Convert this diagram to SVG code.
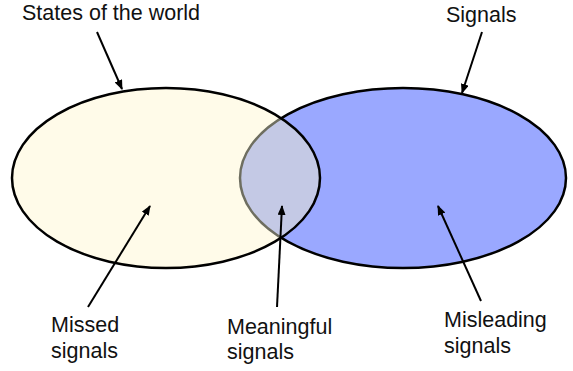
<svg xmlns="http://www.w3.org/2000/svg" width="573" height="371" viewBox="0 0 573 371">
<style>
text{font-family:"Liberation Sans",Arial,sans-serif;font-size:21.5px;fill:#111}
.arr{stroke:#000;stroke-width:2;fill:none;marker-end:url(#ah)}
</style>
<defs>
<marker id="ah" markerWidth="10" markerHeight="8" refX="9" refY="4" orient="auto" markerUnits="userSpaceOnUse">
<path d="M0,0 L10,4 L0,8 Z" fill="#000"/>
</marker>
<clipPath id="clipL"><ellipse cx="166" cy="178" rx="154" ry="90"/></clipPath>
</defs>
<g id="signals-set">
<ellipse cx="403" cy="178" rx="163" ry="90" fill="#9aa8ff" stroke="#000" stroke-width="2.5"/>
</g>
<g id="world-set">
<ellipse cx="166" cy="178" rx="154" ry="90" fill="#fffbe9" stroke="none"/>
<ellipse cx="403" cy="178" rx="163" ry="90" fill="#c4c9e5" stroke="#6e6e60" stroke-width="2.5" clip-path="url(#clipL)"/>
<ellipse cx="166" cy="178" rx="154" ry="90" fill="none" stroke="#000" stroke-width="2.5"/>
</g>
<g id="connectors">
<line class="arr" x1="97" y1="32" x2="122" y2="89"/>
<line class="arr" x1="482" y1="32" x2="462" y2="93"/>
<line class="arr" x1="88" y1="307" x2="150" y2="206"/>
<line class="arr" x1="277" y1="307" x2="282" y2="206"/>
<line class="arr" x1="481" y1="301" x2="438" y2="206"/>
</g>
<g id="label-states"><text x="22" y="20">States of the world</text></g>
<g id="label-signals"><text x="446" y="22">Signals</text></g>
<g id="label-missed"><text x="51" y="332">Missed</text><text x="51" y="358">signals</text></g>
<g id="label-meaningful"><text x="227" y="334">Meaningful</text><text x="227" y="359">signals</text></g>
<g id="label-misleading"><text x="444" y="327">Misleading</text><text x="444" y="353">signals</text></g>
</svg>
